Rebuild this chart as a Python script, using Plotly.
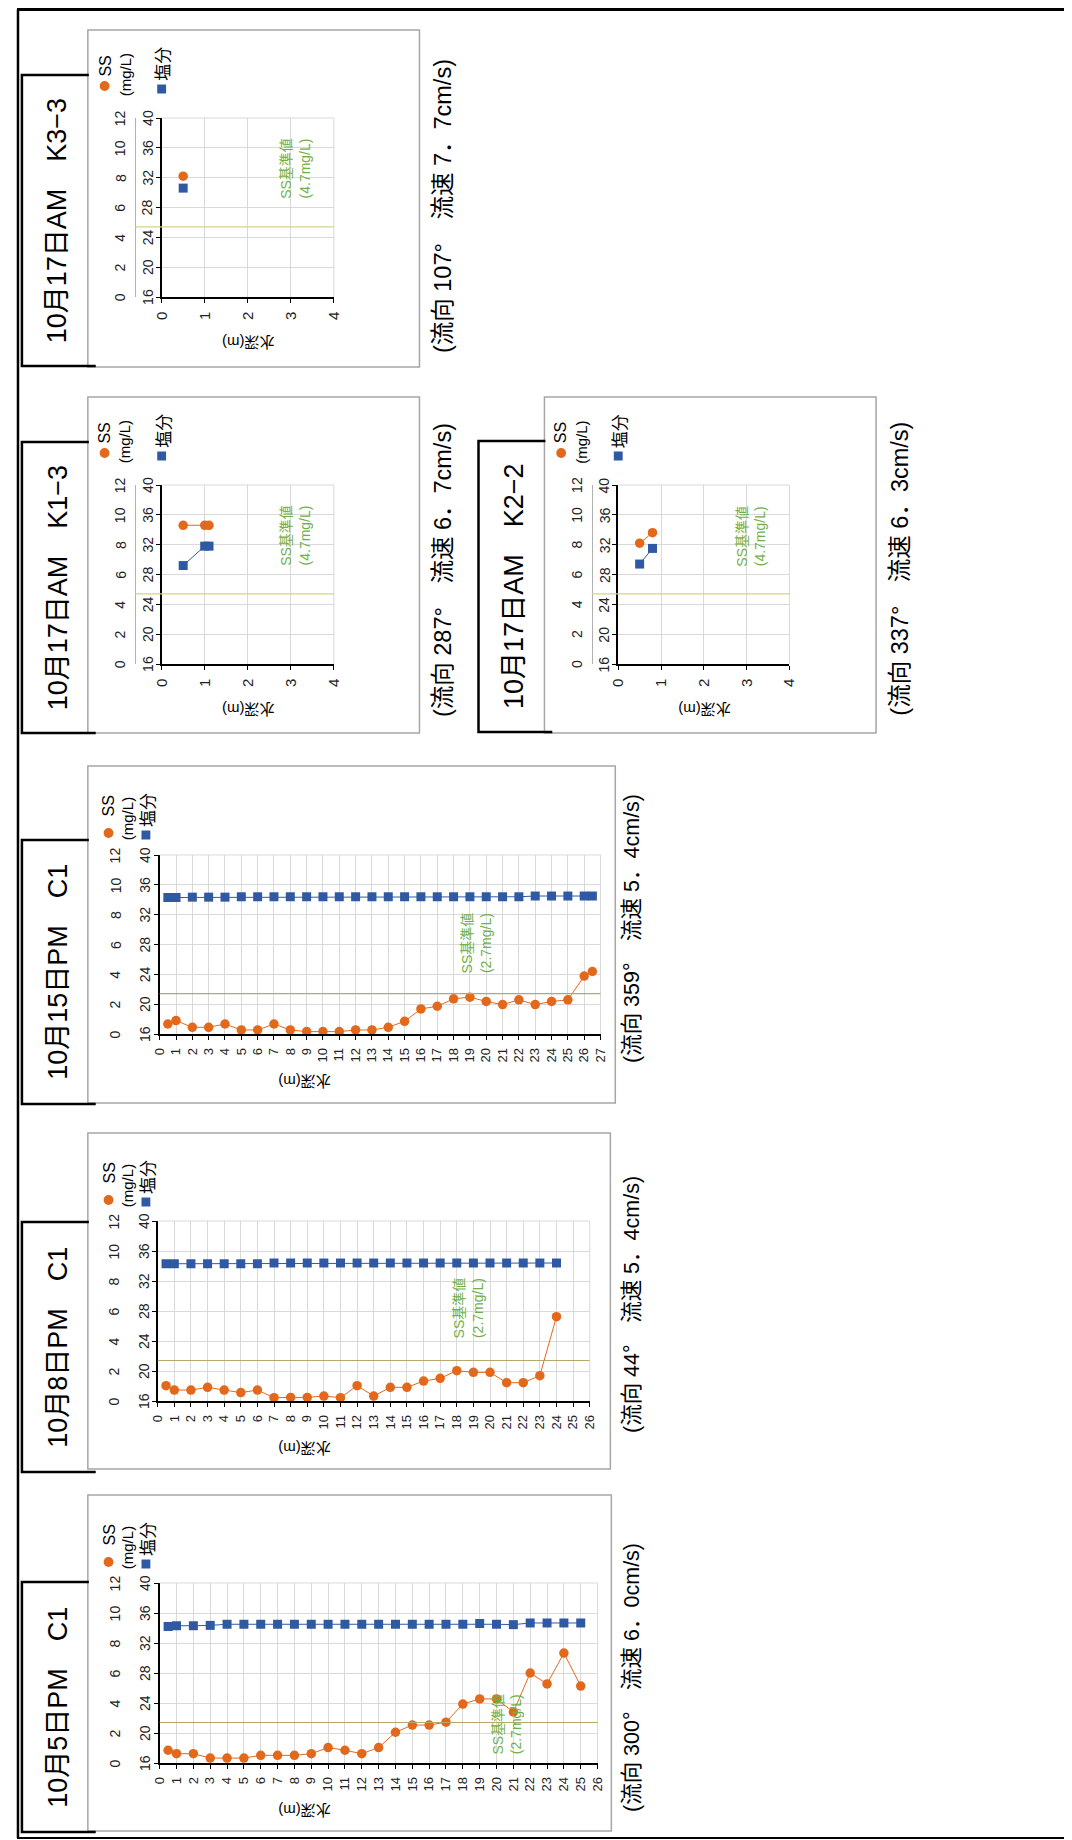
import plotly.graph_objects as go

# ---------------- data ----------------
titles = ["10月17日AM\u2003K3−3", "10月17日AM\u2003K1−3", "10月17日AM\u2003K2−2",
          "10月15日PM\u2003C1", "10月8日PM\u2003C1", "10月5日PM\u2003C1"]
flow_labels = ["(流向 107°　流速 7．7cm/s)", "(流向 287°　流速 6．7cm/s)",
               "(流向 337°　流速 6．3cm/s)", "(流向 359°　流速 5．4cm/s)",
               "(流向 44°　流速 5．4cm/s)", "(流向 300°　流速 6．0cm/s)"]
ss_standard = [4.7, 4.7, 4.7, 2.7, 2.7, 2.7]
standard_labels = ["SS基準値<br>(4.7mg/L)", "SS基準値<br>(4.7mg/L)", "SS基準値<br>(4.7mg/L)",
                   "SS基準値<br>(2.7mg/L)", "SS基準値<br>(2.7mg/L)", "SS基準値<br>(2.7mg/L)"]
depth_max = [4, 4, 4, 27, 26, 26]
ss_range = [0, 12]
sal_range = [16, 40]
ss_ticks = [0, 2, 4, 6, 8, 10, 12]
sal_ticks = [16, 20, 24, 28, 32, 36, 40]

k33_ss_depth = [0.5]
k33_ss = [8.1]
k33_sal_depth = [0.5]
k33_sal = [30.6]

k13_ss_depth = [0.5, 1.0, 1.1]
k13_ss = [9.3, 9.3, 9.3]
k13_sal_depth = [0.5, 1.0, 1.1]
k13_sal = [29.2, 31.8, 31.8]

k22_ss_depth = [0.5, 0.8]
k22_ss = [8.1, 8.8]
k22_sal_depth = [0.5, 0.8]
k22_sal = [29.4, 31.5]

c15_depth = [0.5, 1, 2, 3, 4, 5, 6, 7, 8, 9, 10, 11, 12, 13, 14, 15, 16, 17, 18, 19,
             20, 21, 22, 23, 24, 25, 26, 26.5]
c15_ss = [0.67, 0.9, 0.45, 0.45, 0.67, 0.27, 0.27, 0.67, 0.27, 0.16, 0.16, 0.16, 0.27, 0.27,
          0.45, 0.85, 1.68, 1.86, 2.36, 2.47, 2.18, 1.97, 2.29, 1.97, 2.18, 2.29, 3.88, 4.19]
c15_sal = [34.3, 34.3, 34.35, 34.35, 34.35, 34.4, 34.4, 34.4, 34.4, 34.4, 34.4, 34.4, 34.4,
           34.4, 34.4, 34.4, 34.4, 34.4, 34.4, 34.4, 34.4, 34.4, 34.4, 34.5, 34.5, 34.5,
           34.5, 34.5]

c08_depth = [0.5, 1, 2, 3, 4, 5, 6, 7, 8, 9, 10, 11, 12, 13, 14, 15, 16, 17, 18, 19,
             20, 21, 22, 23, 24]
c08_ss = [1.02, 0.73, 0.73, 0.91, 0.73, 0.56, 0.73, 0.22, 0.24, 0.24, 0.33, 0.22, 1.02,
          0.33, 0.91, 0.91, 1.33, 1.51, 2.02, 1.91, 1.91, 1.22, 1.22, 1.69, 5.62]
c08_sal = [34.3, 34.3, 34.3, 34.3, 34.3, 34.3, 34.3, 34.4, 34.4, 34.4, 34.4, 34.4, 34.4,
           34.4, 34.4, 34.4, 34.4, 34.4, 34.4, 34.4, 34.4, 34.4, 34.4, 34.4, 34.4]

c05_depth = [0.5, 1, 2, 3, 4, 5, 6, 7, 8, 9, 10, 11, 12, 13, 14, 15, 16, 17, 18, 19,
             20, 21, 22, 23, 24, 25]
c05_ss = [0.85, 0.62, 0.62, 0.33, 0.33, 0.33, 0.51, 0.51, 0.51, 0.62, 1.03, 0.85, 0.62,
          1.03, 2.05, 2.53, 2.53, 2.72, 3.93, 4.27, 4.27, 3.4, 6.0, 5.27, 7.33, 5.13]
c05_sal = [34.2, 34.3, 34.3, 34.35, 34.5, 34.5, 34.5, 34.5, 34.5, 34.5, 34.5, 34.5, 34.5,
           34.5, 34.5, 34.5, 34.5, 34.5, 34.5, 34.6, 34.5, 34.45, 34.67, 34.67, 34.67, 34.67]

series = [
    (k33_ss_depth, k33_ss, k33_sal_depth, k33_sal),
    (k13_ss_depth, k13_ss, k13_sal_depth, k13_sal),
    (k22_ss_depth, k22_ss, k22_sal_depth, k22_sal),
    (c15_depth, c15_ss, c15_depth, c15_sal),
    (c08_depth, c08_ss, c08_depth, c08_sal),
    (c05_depth, c05_ss, c05_depth, c05_sal),
]

# ---------------- layout geometry (page pixels) ----------------
# the page body keeps its default 8px margin, so the figure starts at (8, 8)
OX, OY = 8, 8
FW, FH = 1064, 1832
FONT = "Liberation Sans, Noto Sans CJK JP, sans-serif"
JFONT = "Noto Sans CJK JP, sans-serif"
ORANGE = "#E2691C"
BLUE = "#2F5AA3"
GRID = "#d9d9d9"
GREEN = "#70B04A"


def px(x):
    return (x - OX) / FW


def py(y):
    return 1 - (y - OY) / FH


layouts = [
    dict(plot=(155, 330, 118, 297), box=(80, 417, 30, 367), tbox=(13, 75, 366),
         flow=(441, 206), ssx=128, labx=(113, 141), std=(3.1, 8.6), kind="K"),
    dict(plot=(155, 330, 485, 664), box=(80, 417, 397, 733), tbox=(13, 442, 733),
         flow=(441, 570), ssx=128, labx=(113, 141), std=(3.1, 8.6), kind="K"),
    dict(plot=(619, 793, 485, 664), box=(544, 881, 397, 733), tbox=(477, 441, 732),
         flow=(905, 569), ssx=592, labx=(577, 605), std=(3.1, 8.6), kind="K"),
    dict(plot=(153, 601, 855, 1034), box=(80, 616, 766, 1103), tbox=(13, 840, 1104),
         flow=(633, 929), ssx=None, labx=(108, 138), std=(19.4, 6.1), kind="C"),
    dict(plot=(151, 590, 1221, 1401), box=(80, 611, 1133, 1469), tbox=(13, 1222, 1472),
         flow=(633, 1305), ssx=None, labx=(107, 137), std=(18.7, 6.2), kind="C"),
    dict(plot=(153, 598, 1583, 1763), box=(80, 612, 1495, 1831), tbox=(13, 1582, 1832),
         flow=(633, 1678), ssx=None, labx=(108, 138), std=(20.6, 2.6), kind="C"),
]

fig = go.Figure()
shapes = []
annotations = []


def ann(x, y, text, size, angle=-90, color="black", family=FONT):
    annotations.append(dict(xref="paper", yref="paper", x=px(x), y=py(y), text=text,
                            showarrow=False, textangle=angle, xanchor="center",
                            yanchor="middle", font=dict(size=size, color=color, family=family)))


def line(x0, y0, x1, y1, color, width):
    shapes.append(dict(type="line", xref="paper", yref="paper", x0=px(x0), y0=py(y0),
                       x1=px(x1), y1=py(y1), line=dict(color=color, width=width)))


# outer frame
line(8, 9.5, 1072, 9.5, "black", 3)
line(9, 9.5, 9, 1838, "black", 2.5)
line(8, 1838, 1072, 1838, "black", 2)

for i, (lay, (sd, sv, ld, lv)) in enumerate(zip(layouts, series)):
    n = i + 1
    ss_ax = 2 * i + 1
    sal_ax = 2 * i + 2
    x0, x1, y0, y1 = lay["plot"]
    K = lay["kind"] == "K"

    # panel box and title box
    bx0, bx1, by0, by1 = lay["box"]
    shapes.append(dict(type="rect", xref="paper", yref="paper", x0=px(bx0), x1=px(bx1),
                       y0=py(by1), y1=py(by0), line=dict(color="#a6a6a6", width=1.5)))
    tl, tt, tb = lay["tbox"]
    shapes.append(dict(type="path", xref="paper", yref="paper",
                       path=f"M {px(bx0 + 1)},{py(tt)} L {px(tl)},{py(tt)} L {px(tl)},{py(tb)} L {px(bx0 + 8)},{py(tb)}",
                       line=dict(color="black", width=2.5)))
    ann((tl + bx0) / 2 + 3, (tt + tb) / 2, titles[i], 27, family=FONT)
    ann(lay["flow"][0], lay["flow"][1], flow_labels[i], 23.5 if K else 21.5, family=FONT)

    # axes
    xkey = "xaxis" if n == 1 else f"xaxis{n}"
    sskey = "yaxis" if ss_ax == 1 else f"yaxis{ss_ax}"
    salkey = f"yaxis{sal_ax}"
    fig.layout[xkey] = dict(domain=[px(x0), px(x1)], anchor=f"y{sal_ax}", range=[0, depth_max[i]],
                            tick0=0, dtick=1, showgrid=True, gridcolor=GRID, gridwidth=1,
                            showline=True, linecolor="black", linewidth=1.5, ticks="outside",
                            ticklen=4, tickcolor="black", tickangle=-90, zeroline=False,
                            tickfont=dict(size=15 if K else 13, color="#222", family=FONT),
                            ticklabelstandoff=3)
    fig.layout[sskey] = dict(domain=[py(y1), py(y0)], range=ss_range, tick0=0, dtick=2,
                             anchor="free", position=px(lay["ssx"] if K else x0),
                             showgrid=False, zeroline=False, showline=K, linecolor="#b0b0b0",
                             linewidth=1, ticks="", showticklabels=False)
    fig.layout[salkey] = dict(overlaying=f"y{ss_ax}", range=sal_range, tick0=16, dtick=4,
                              anchor=f"x{n}", side="left", showgrid=True, gridcolor=GRID,
                              zeroline=False, showline=True, linecolor="black", linewidth=1.5,
                              ticks="outside", ticklen=4, tickcolor="black",
                              showticklabels=False)

    # value-axis tick labels (rotated, two scales side by side)
    for v in ss_ticks:
        annotations.append(dict(xref="paper", yref=f"y{ss_ax}", x=px(lay["labx"][0]), y=v,
                                text=str(v), showarrow=False, textangle=-90, xanchor="center",
                                yanchor="middle", font=dict(size=14, color="#222", family=FONT)))
    for v in sal_ticks:
        annotations.append(dict(xref="paper", yref=f"y{sal_ax}", x=px(lay["labx"][1]), y=v,
                                text=str(v), showarrow=False, textangle=-90, xanchor="center",
                                yanchor="middle", font=dict(size=14, color="#222", family=FONT)))

    # top / right plot edges
    line(x0, y0, x1, y0, GRID, 1)
    line(x1, y0, x1, y1, GRID, 1)

    # SS standard line
    shapes.append(dict(type="line", xref="paper", yref=f"y{ss_ax}",
                       x0=px(lay["ssx"] if K else x0), x1=px(x1), y0=ss_standard[i], y1=ss_standard[i],
                       line=dict(color="#D4D38A" if K else "#B9A66A", width=1.2)))
    annotations.append(dict(xref=f"x{n}", yref=f"y{ss_ax}", x=lay["std"][0], y=lay["std"][1],
                            text=standard_labels[i], showarrow=False, textangle=-90,
                            xanchor="center", yanchor="middle",
                            font=dict(size=14, color=GREEN, family=FONT)))

    # axis title
    if K:
        ann((x0 + x1) / 2, y1 + 46, "水深(m)", 15, angle=180, family=FONT)
    else:
        ann(300, y1 + 48, "水深(m)", 15, angle=180, family=FONT)

    # legend
    if K:
        cx_ss, cx_mg, cx_sal = bx0 + 17, bx0 + 38, bx0 + 75
        cy_dot, cy_ss, cy_mg, cy_sq, cy_en = by0 + 56, by0 + 36, by0 + 45, by0 + 59, by0 + 34
    else:
        cx_ss, cx_mg, cx_sal = 101, 120, 139
        cy_dot, cy_ss, cy_mg, cy_sq, cy_en = by0 + 67, by0 + 40, by0 + 53, by0 + 69, by0 + 44
    r = 5
    shapes.append(dict(type="circle", xref="paper", yref="paper", x0=px(cx_ss - r), x1=px(cx_ss + r),
                       y0=py(cy_dot + r), y1=py(cy_dot - r), fillcolor=ORANGE, line=dict(width=0)))
    s = 4.5
    shapes.append(dict(type="rect", xref="paper", yref="paper", x0=px(cx_sal - s), x1=px(cx_sal + s),
                       y0=py(cy_sq + s), y1=py(cy_sq - s), fillcolor=BLUE, line=dict(width=0)))
    ann(cx_ss, cy_ss, "SS", 16)
    ann(cx_mg, cy_mg, "(mg/L)", 15)
    ann(cx_sal, cy_en, "塩分", 17, family=JFONT)

    # data traces
    fig.add_trace(go.Scatter(x=ld, y=lv, xaxis=f"x{n}", yaxis=f"y{sal_ax}", mode="lines+markers",
                             line=dict(color=BLUE, width=1),
                             marker=dict(symbol="square", size=9, color=BLUE), cliponaxis=False))
    fig.add_trace(go.Scatter(x=sd, y=sv, xaxis=f"x{n}", yaxis=f"y{ss_ax}", mode="lines+markers",
                             line=dict(color=ORANGE, width=1),
                             marker=dict(symbol="circle", size=9.5, color=ORANGE), cliponaxis=False))

fig.update_layout(width=FW, height=FH, margin=dict(l=0, r=0, t=0, b=0), showlegend=False,
                  paper_bgcolor="white", plot_bgcolor="white", shapes=shapes,
                  annotations=annotations)

fig.write_html("out.html", config={"displayModeBar": False})
